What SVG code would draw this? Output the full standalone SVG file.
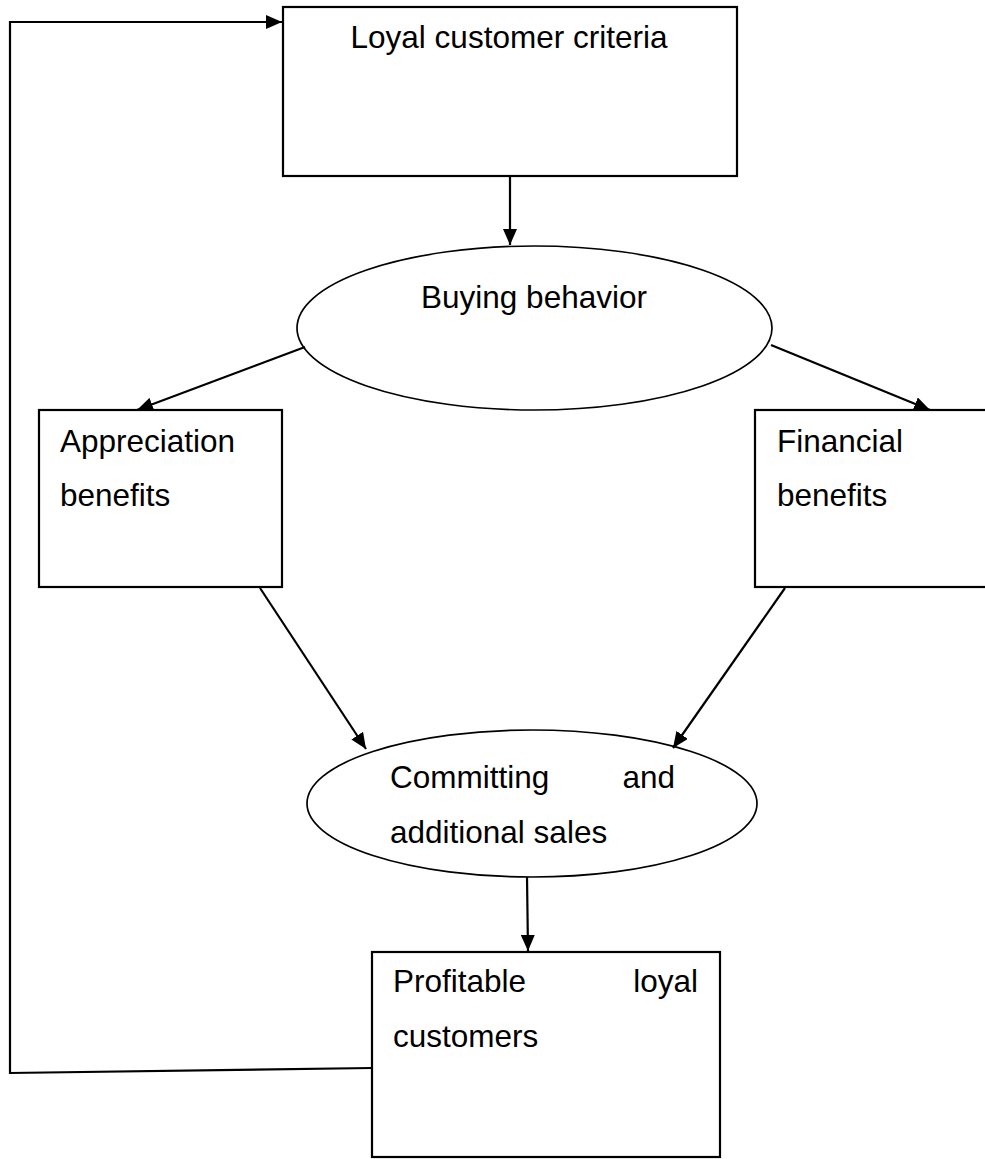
<svg xmlns="http://www.w3.org/2000/svg" width="985" height="1159" viewBox="0 0 985 1159">
<style>
.box{fill:#fff;stroke:#000;stroke-width:2.2}
.ell{fill:#fff;stroke:#000;stroke-width:1.7}
.con{fill:none;stroke:#000;stroke-width:2.2}
text{font-family:"Liberation Sans",Arial,sans-serif;font-size:31.5px;fill:#000}
</style>
<defs>
<marker id="ah" markerWidth="16" markerHeight="14" refX="16" refY="7" orient="auto" markerUnits="userSpaceOnUse">
<path d="M0,0 L16,7 L0,14 Z" fill="#000"/>
</marker>
</defs>
<rect width="985" height="1159" fill="#fff"/>
<g id="n-loyal-criteria">
<rect class="box" x="283" y="7" width="454" height="169"/>
<text x="509" y="48" text-anchor="middle">Loyal customer criteria</text>
</g>
<g id="n-buying">
<ellipse class="ell" cx="534.5" cy="328" rx="237.5" ry="82"/>
<text x="534" y="308" text-anchor="middle">Buying behavior</text>
</g>
<g id="n-appreciation">
<rect class="box" x="39" y="410" width="243" height="177"/>
<text x="60" y="452">Appreciation</text>
<text x="60" y="506">benefits</text>
</g>
<g id="n-financial">
<rect class="box" x="755" y="410" width="240" height="177"/>
<text x="777" y="452">Financial</text>
<text x="777" y="506">benefits</text>
</g>
<g id="n-committing">
<ellipse class="ell" cx="532" cy="803.5" rx="225" ry="73.5"/>
<text x="390" y="788">Committing</text>
<text x="675" y="788" text-anchor="end">and</text>
<text x="390" y="843">additional sales</text>
</g>
<g id="n-profitable">
<rect class="box" x="372" y="952" width="348" height="205"/>
<text x="393" y="992">Profitable</text>
<text x="698" y="992" text-anchor="end">loyal</text>
<text x="393" y="1047">customers</text>
</g>
<g id="connectors">
<line class="con" x1="510" y1="177" x2="510" y2="245" marker-end="url(#ah)"/>
<line class="con" x1="305" y1="347" x2="137" y2="410" marker-end="url(#ah)"/>
<line class="con" x1="771" y1="345" x2="930" y2="410" marker-end="url(#ah)"/>
<line class="con" x1="260" y1="588" x2="366" y2="749" marker-end="url(#ah)"/>
<line class="con" x1="785" y1="588" x2="673" y2="748" marker-end="url(#ah)"/>
<line class="con" x1="527" y1="877" x2="528" y2="951" marker-end="url(#ah)"/>
<polyline class="con" points="372,1068 10,1073 10,22 282,22" marker-end="url(#ah)"/>
</g>
</svg>
